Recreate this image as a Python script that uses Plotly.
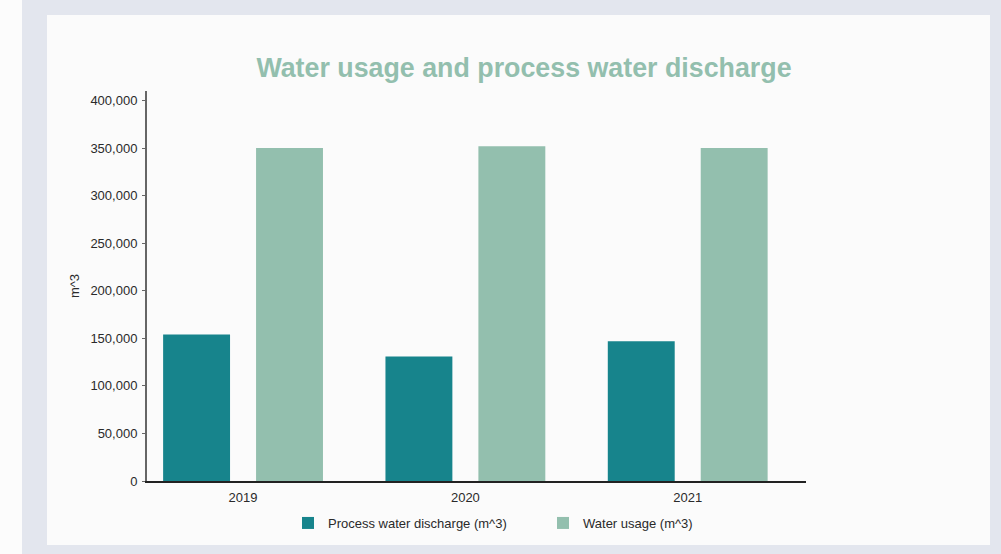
import plotly.graph_objects as go

years = ["2019", "2020", "2021"]
process_discharge = [154000, 131000, 147000]
water_usage = [350000, 352000, 350000]
y_ticks = [0, 50000, 100000, 150000, 200000, 250000, 300000, 350000, 400000]
y_tick_labels = ["0", "50,000", "100,000", "150,000", "200,000", "250,000", "300,000", "350,000", "400,000"]
series_names = ["Process water discharge (m^3)", "Water usage (m^3)"]

W, H = 1001, 554
L, R, T, B = 147, 195, 91, 73
pw, ph = W - L - R, H - T - B

def px(xp):
    return (xp - L) / pw

def py(yp):
    return (H - B - yp) / ph

fig = go.Figure()
fig.add_trace(go.Bar(x=years, y=process_discharge, name=series_names[0],
                     marker=dict(color="#17848c", line=dict(width=0)), legend="legend"))
fig.add_trace(go.Bar(x=years, y=water_usage, name=series_names[1],
                     marker=dict(color="#93bfae", line=dict(width=0)), legend="legend2"))

font_family = "Liberation Sans, Arial, sans-serif"
text_color = "#2a2a2a"

shapes = [
    # white strip on the left
    dict(type="rect", xref="paper", yref="paper", x0=px(-5), x1=px(22), y0=py(-5), y1=py(H + 5),
         fillcolor="#fcfcfc", line=dict(width=0), layer="below"),
    # card
    dict(type="rect", xref="paper", yref="paper", x0=px(47), x1=px(990), y0=py(545), y1=py(15),
         fillcolor="#fbfbfb", line=dict(width=0), layer="below"),
]

legend_common = dict(orientation="h", yanchor="middle", y=py(523), xanchor="left",
                     font=dict(size=13, color=text_color), bgcolor="rgba(0,0,0,0)",
                     borderwidth=0)

fig.update_layout(
    width=W, height=H,
    margin=dict(l=L, r=R, t=T, b=B, autoexpand=False),
    paper_bgcolor="#e3e6ee",
    plot_bgcolor="#fbfbfb",
    shapes=shapes,
    barmode="group",
    bargap=0.164,
    bargroupgap=0.28,
    font=dict(family=font_family, size=13, color=text_color),
    title=dict(text="<b>Water usage and process water discharge</b>",
               font=dict(family=font_family, size=26.8, color="#93bfae"),
               x=px(524), xref="paper", xanchor="center",
               y=1 - 68 / H, yref="container", yanchor="middle"),
    xaxis=dict(type="category", range=[-0.432, 2.532], showline=True, linecolor="#222222",
               linewidth=1.5, ticks="", showgrid=False, zeroline=False,
               ticklabelstandoff=4,
               tickfont=dict(size=13, color=text_color)),
    yaxis=dict(range=[0, 410000], tickvals=y_ticks, ticktext=y_tick_labels,
               showline=True, linecolor="#666666", linewidth=2, ticks="outside", ticklen=3,
               tickcolor="#666666", tickwidth=1, showgrid=False, zeroline=False,
               ticklabelstandoff=2,
               tickfont=dict(size=13, color=text_color),
               title=dict(text="m^3", font=dict(size=13, color=text_color), standoff=8)),
    legend=dict(x=px(288), **legend_common),
    legend2=dict(x=px(543), **legend_common),
    showlegend=True,
)

fig.write_html("out.html", config={"displayModeBar": False},
               post_script="document.body.style.margin='0';document.body.style.overflow='hidden';")
